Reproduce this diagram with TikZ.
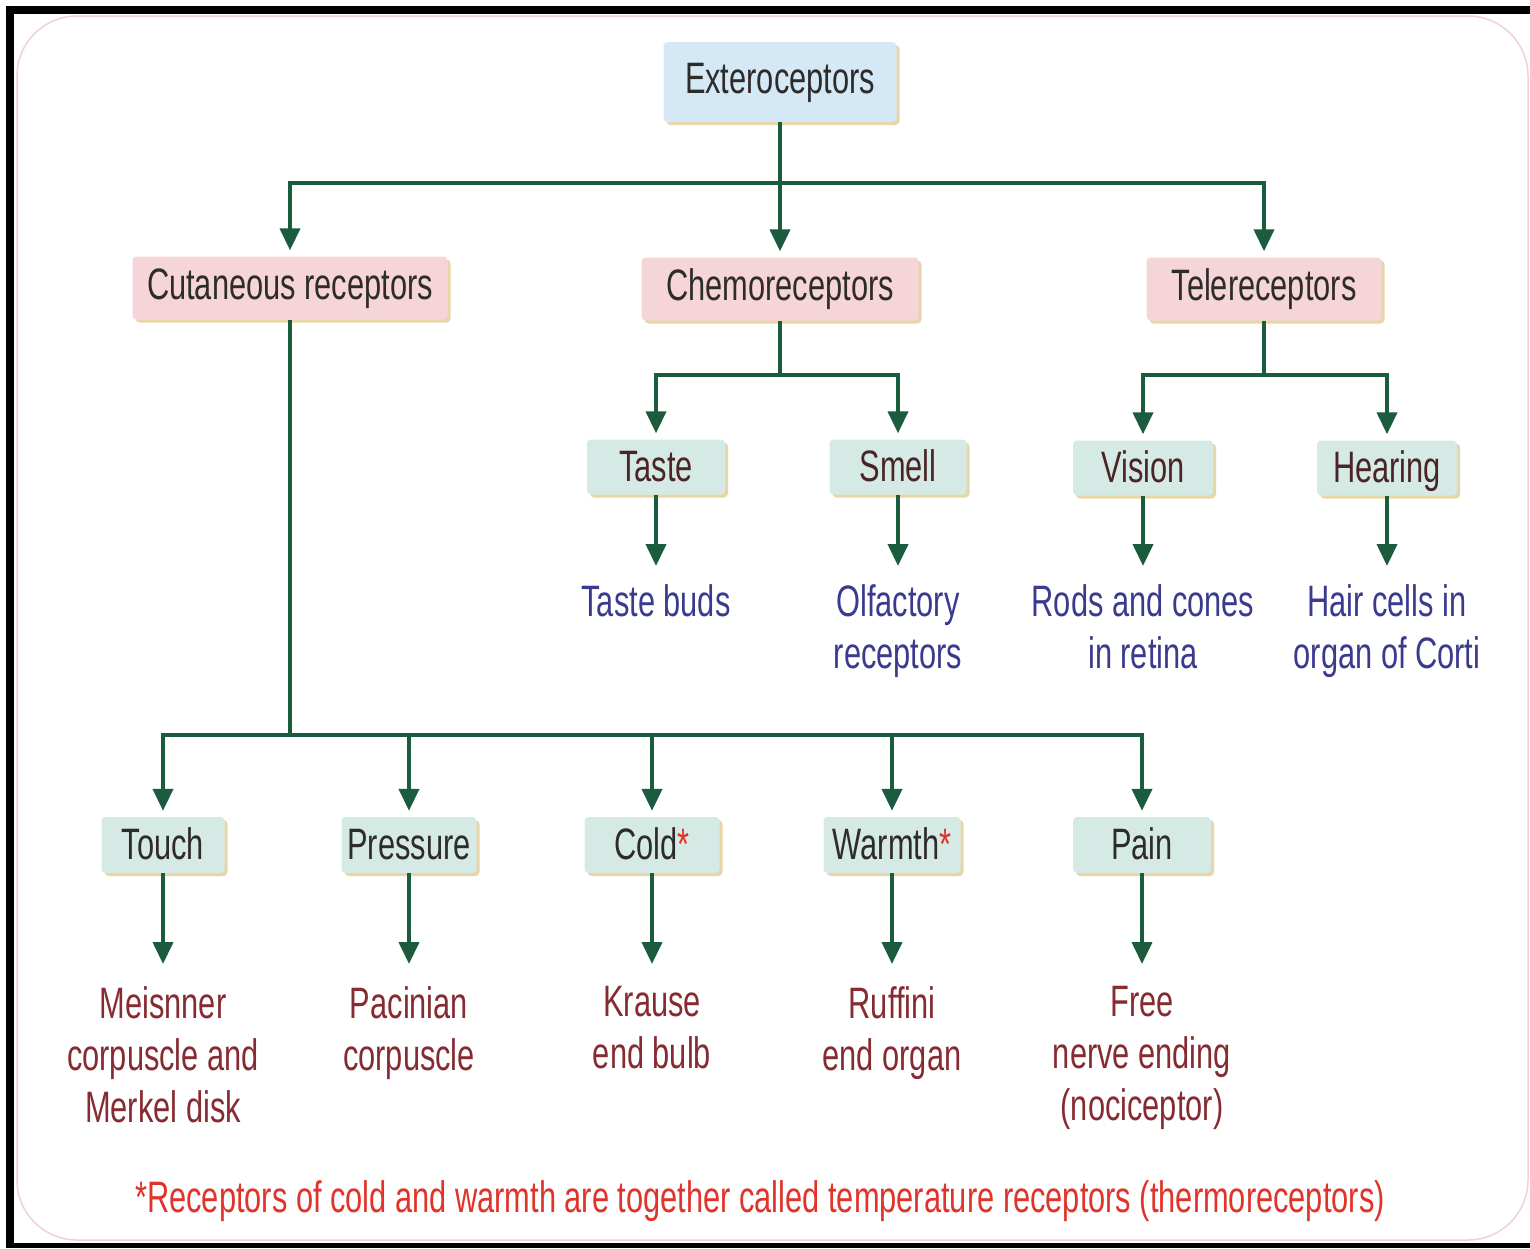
\documentclass[tikz,border=0pt]{standalone}
\usepackage{fontspec}
\setmainfont{Liberation Sans}[FakeStretch=0.70]
\usetikzlibrary{arrows.meta,shadows}
\definecolor{lnk}{HTML}{1B5C3E}
\definecolor{extfill}{HTML}{D4E9F5}
\definecolor{pinkfill}{HTML}{F6D5D8}
\definecolor{tealfill}{HTML}{D6EAE5}
\definecolor{shtan}{HTML}{E8D6A8}
\definecolor{darktext}{HTML}{2E2B2B}
\definecolor{browntext}{HTML}{4A2426}
\definecolor{blueleaf}{HTML}{3A3A8E}
\definecolor{redleaf}{HTML}{862B31}
\definecolor{footred}{HTML}{E0332A}
\definecolor{framepink}{HTML}{F0D2D2}
\newcommand{\bigfnt}{\fontsize{44}{52}\selectfont}
\newcommand{\redstar}{{\color{footred}*}}
\begin{document}
\begin{tikzpicture}[x=1pt,y=-1pt,
  box/.style={rounded corners=4pt, inner sep=0pt, font=\bigfnt,
    text height=31pt, text depth=9pt,
    drop shadow={shadow xshift=3pt, shadow yshift=-3pt, fill=shtan, opacity=1}},
  extbox/.style={box, fill=extfill, text=darktext, minimum width=233pt, minimum height=80pt},
  lvltwo/.style={box, fill=pinkfill, text=darktext, minimum height=63pt},
  lvlthreea/.style={box, fill=tealfill, text=browntext, minimum height=55pt, text depth=2pt},
  lvlthreeb/.style={box, fill=tealfill, text=darktext, minimum height=56pt, text depth=2pt},
  leafb/.style={text=blueleaf, align=center, font=\bigfnt, anchor=north, inner xsep=0pt, inner ysep=18pt},
  leafr/.style={text=redleaf, align=center, font=\bigfnt, anchor=north, inner xsep=0pt, inner ysep=22pt},
  link/.style={draw=lnk, line width=4pt},
  arr/.style={link, -{Triangle[width=20pt,length=22pt]}},
  arrbox/.style={arr, shorten >=6pt}
]
\useasboundingbox (0,0) rectangle (1530,1248);
\fill[black] (6,6) rectangle (1530,1248);
\fill[white] (14,14) rectangle (1530,1243);
\draw[framepink, line width=1.5pt, rounded corners=60pt, fill=white] (17,16) rectangle (1528,1240);

% boxes
\node[extbox] (ext) at (780,82) {Exteroceptors};
\node[lvltwo, minimum width=315pt] (cut) at (290,288) {Cutaneous receptors};
\node[lvltwo, minimum width=277pt] (chemo) at (780,289) {Chemoreceptors};
\node[lvltwo, minimum width=235pt] (tele) at (1264,289) {Telereceptors};

\node[lvlthreea, minimum width=138pt] (taste) at (656,467) {Taste};
\node[lvlthreea, minimum width=137pt] (smell) at (898,467) {Smell};
\node[lvlthreea, minimum width=140pt] (vision) at (1143,468) {Vision};
\node[lvlthreea, minimum width=140pt] (hearing) at (1387,468) {Hearing};

\node[lvlthreeb, minimum width=123pt] (touch) at (163,845) {Touch};
\node[lvlthreeb, minimum width=135pt] (pressure) at (409,845) {Pressure};
\node[lvlthreeb, minimum width=135pt] (cold) at (652,845) {Cold\redstar};
\node[lvlthreeb, minimum width=137pt] (warmth) at (892,845) {Warmth\redstar};
\node[lvlthreeb, minimum width=138pt] (pain) at (1142,845) {Pain};

% leaves
\node[leafb] (tb) at (656,566) {Taste buds};
\node[leafb] (olf) at (898,566) {Olfactory\\receptors};
\node[leafb] (rods) at (1143,566) {Rods and cones\\in retina};
\node[leafb] (hair) at (1387,566) {Hair cells in\\organ of Corti};

\node[leafr] (mei) at (163,964) {Meisnner\\corpuscle and\\Merkel disk};
\node[leafr] (pac) at (409,964) {Pacinian\\corpuscle};
\node[leafr] (kra) at (652,964) {Krause\\end bulb};
\node[leafr] (ruf) at (892,964) {Ruffini\\end organ};
\node[leafr] (free) at (1142,964) {Free\\nerve ending\\(nociceptor)};

\node[text=footred, font=\bigfnt, inner sep=0pt] (foot) at (760,1201)
  {*Receptors of cold and warmth are together called temperature receptors (thermoreceptors)};

% junctions
\coordinate (j1) at (780,183);
\coordinate (j2) at (780,375);
\coordinate (j3) at (1264,375);
\coordinate (j4) at (290,735);

\draw[link] (ext.south) -- (j1);
\draw[arrbox] (j1) -| (cut.north);
\draw[arrbox] (j1) -| (tele.north);
\draw[arrbox] (j1) -- (chemo.north);

\draw[link] (chemo.south) -- (j2);
\draw[arrbox] (j2) -| (taste.north);
\draw[arrbox] (j2) -| (smell.north);

\draw[link] (tele.south) -- (j3);
\draw[arrbox] (j3) -| (vision.north);
\draw[arrbox] (j3) -| (hearing.north);

\draw[link] (cut.south) -- (j4);
\draw[arrbox] (j4) -| (touch.north);
\draw[arrbox] (j4) -| (pressure.north);
\draw[arrbox] (j4) -| (cold.north);
\draw[arrbox] (j4) -| (warmth.north);
\draw[arrbox] (j4) -| (pain.north);

\draw[arr] (taste.south) -- (taste.south |- tb.north);
\draw[arr] (smell.south) -- (smell.south |- olf.north);
\draw[arr] (vision.south) -- (vision.south |- rods.north);
\draw[arr] (hearing.south) -- (hearing.south |- hair.north);

\draw[arr] (touch.south) -- (touch.south |- mei.north);
\draw[arr] (pressure.south) -- (pressure.south |- pac.north);
\draw[arr] (cold.south) -- (cold.south |- kra.north);
\draw[arr] (warmth.south) -- (warmth.south |- ruf.north);
\draw[arr] (pain.south) -- (pain.south |- free.north);
\end{tikzpicture}
\end{document}
